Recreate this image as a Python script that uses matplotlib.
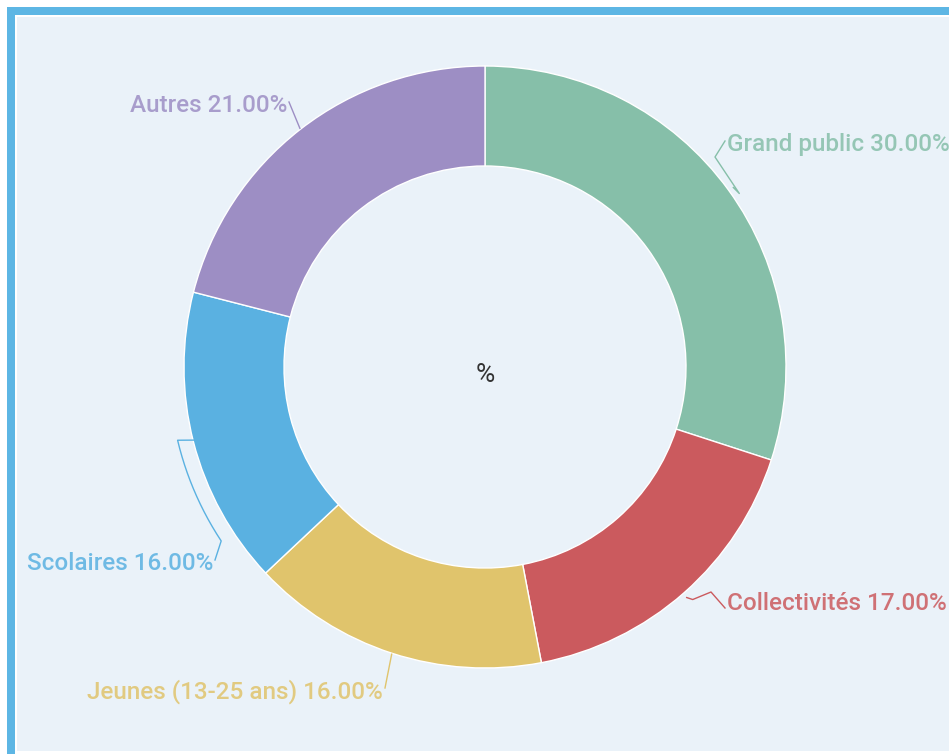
import numpy as np
import matplotlib
matplotlib.use("Agg")
import matplotlib.pyplot as plt
from matplotlib.patches import Rectangle

plt.rcParams["font.family"] = ["Roboto", "DejaVu Sans"]

# data
categories = ["Grand public", "Collectivités", "Jeunes (13-25 ans)", "Scolaires", "Autres"]
values = [30.0, 17.0, 16.0, 16.0, 21.0]
colors = ["#86BFA9", "#CB5A5E", "#E0C46C", "#5AB1E1", "#9D8EC4"]
center_label = "%"

W, H = 949, 754
CX, CY = 485, H - 367
R = 301
RING = 100

# label anchor (px, top-origin) and alignment, per slice
label_pos = [(727, 145, "left"), (727, 604, "left"), (383, 692, "right"),
             (213, 564, "right"), (287, 106, "right")]

fig = plt.figure(figsize=(W / 100, H / 100), dpi=100)
fig.patch.set_facecolor("white")
ax = fig.add_axes([0, 0, 1, 1])

# frame
ax.add_patch(Rectangle((7, 0), W, H - 7, facecolor="#5DB6E4", edgecolor="none", zorder=0))
ax.add_patch(Rectangle((15, 0), W, H - 15, facecolor="white", edgecolor="none", zorder=0))
ax.add_patch(Rectangle((17, H - 751), W, 751 - 17, facecolor="#EAF2F9", edgecolor="none", zorder=0))

wedges, _ = ax.pie(values, colors=colors, startangle=90, counterclock=False,
                   radius=R, center=(CX, CY), frame=True,
                   wedgeprops=dict(width=RING, edgecolor="white", linewidth=1))
ax.set_xlim(0, W)
ax.set_ylim(0, H)
ax.set_aspect("equal")
ax.axis("off")

ax.text(CX, H - 375, center_label, ha="center", va="center", fontsize=19, color="#333333")

cum = np.cumsum([0] + values)
for i, (name, v) in enumerate(zip(categories, values)):
    mid = np.deg2rad(90 - (cum[i] + v / 2) * 3.6)
    lx, ly, ha = label_pos[i]
    ly = H - ly
    px, py = CX + (R + 1) * np.cos(mid), CY + (R + 1) * np.sin(mid)
    ex = lx + (-2 if ha == "left" else 2)
    ey = ly + 4
    if i == 0:
        xs = [px + 4, px + 10, ex - 10, ex]
        ys = [py + 2, py - 4, ly - 12, ey]
    elif i == 1:
        xs = [px + 2, px + 8, ex - 14, ex]
        ys = [py - 4, py - 6, ly + 12, ey - 8]
    elif i == 3:
        a = np.linspace(mid - np.deg2rad(1), mid + np.deg2rad(19), 14)
        xs = list(CX + (R + 15) * np.cos(a))
        ys = list(CY + (R + 15) * np.sin(a))
        xs = [px + 2] + xs + [ex]
        ys = [py + 2] + ys + [ey]
    else:
        xs = [px, ex]
        ys = [py, ey]
    ax.plot(xs, ys, color=colors[i], lw=1, zorder=1)
    ax.text(lx, ly, f"{name} {v:.2f}%", ha=ha, va="center", fontsize=17.5,
            fontweight="medium", color=colors[i], alpha=0.85)

fig.savefig("out.png", dpi=100)
